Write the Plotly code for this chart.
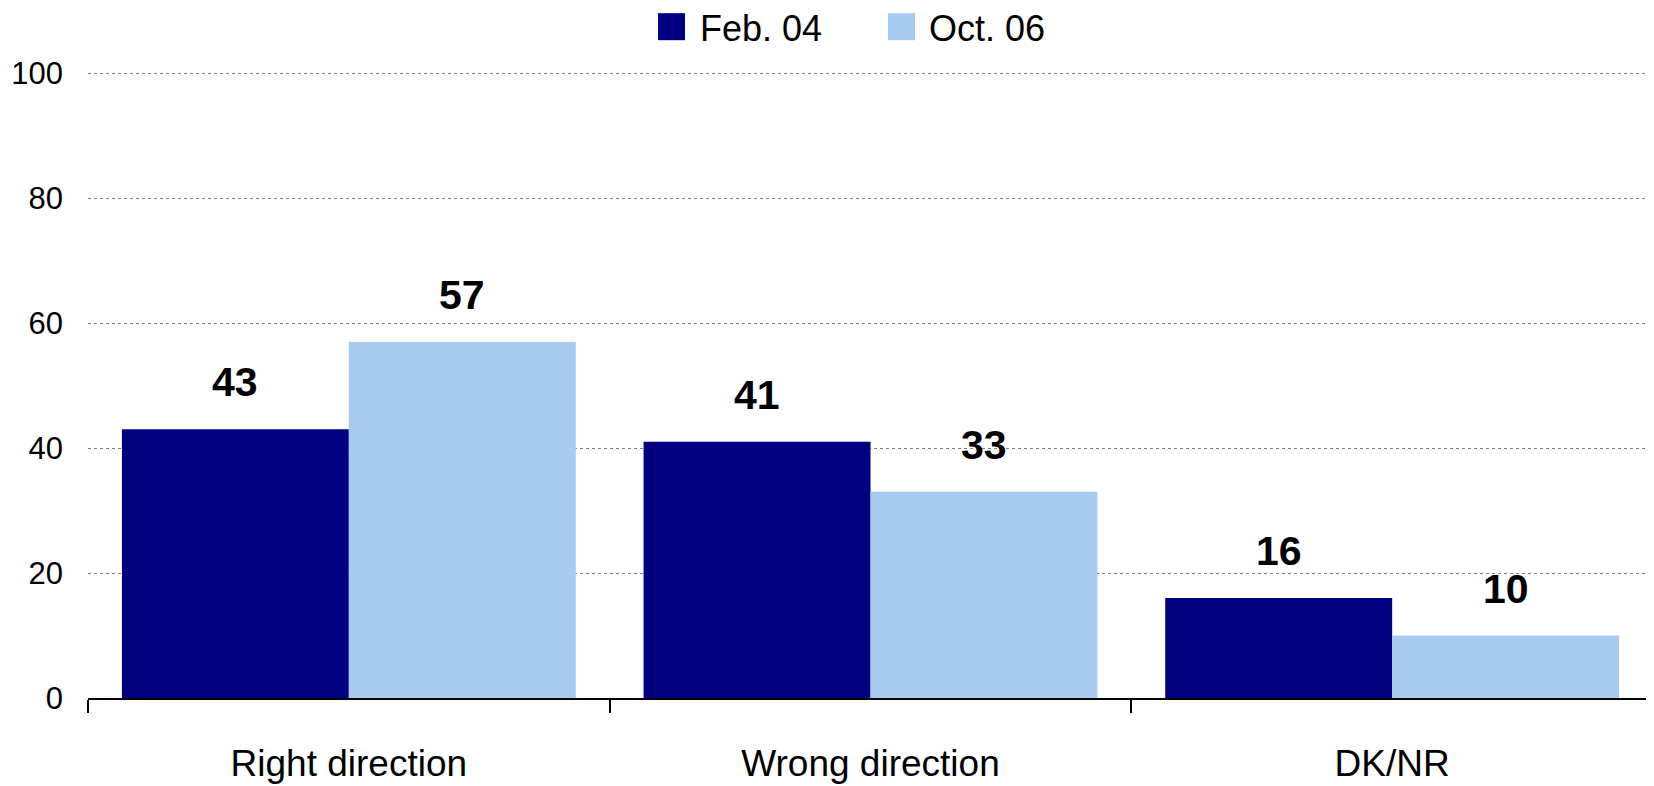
"""Right / wrong direction survey: grouped bars, Feb. 04 vs Oct. 06."""

import plotly.graph_objects as go

CATEGORIES = ["Right direction", "Wrong direction", "DK/NR"]
SERIES = ["Feb. 04", "Oct. 06"]
FEB_04 = [43, 41, 16]
OCT_06 = [57, 33, 10]
Y_TICKS = [0, 20, 40, 60, 80, 100]

COLORS = ["#000080", "#A6CAF0"]
FONT = "Liberation Sans, Arial, sans-serif"
BARGAP = 0.13

fig = go.Figure()
for name, vals, col in zip(SERIES, [FEB_04, OCT_06], COLORS):
    fig.add_trace(go.Bar(x=CATEGORIES, y=vals, name=name, marker=dict(color=col, line=dict(width=0)),
                         showlegend=False, hoverinfo="x+y+name"))

# value labels above each bar (bar centre offset follows from the bargap)
half = (1 - BARGAP) / 4
for k, vals in enumerate([FEB_04, OCT_06]):
    off = -half if k == 0 else half
    for i, v in enumerate(vals):
        fig.add_annotation(x=i + off, y=v, xref="x", yref="y", text=f"<b>{v}</b>",
                           showarrow=False, yanchor="bottom", yshift=22,
                           font=dict(family=FONT, size=41, color="#000000"))

# legend drawn by hand so the swatches can be large squares
leg = [(0.3642, 0.3898), (0.5112, 0.5361)]
for (sx, tx), name, col in zip(leg, SERIES, COLORS):
    fig.add_shape(type="rect", xref="paper", yref="paper", x0=sx, x1=sx + 0.01725,
                  y0=1.0508, y1=1.094, fillcolor=col, line=dict(width=0))
    fig.add_annotation(x=tx, y=1.07, xref="paper", yref="paper", text=name, showarrow=False,
                       xanchor="left", yanchor="middle",
                       font=dict(family=FONT, size=36, color="#000000"))

# page body keeps its default 8px margin, so the figure is 8px smaller each way
fig.update_layout(
    width=1646, height=778,
    paper_bgcolor="white", plot_bgcolor="white",
    barmode="group", bargap=BARGAP, bargroupgap=0,
    margin=dict(l=80, r=1, t=64, b=88),
    font=dict(family=FONT, color="#000000"),
    xaxis=dict(showline=True, linecolor="#000000", linewidth=2, ticks="outside",
               tickson="boundaries", ticklen=13, tickwidth=1.5, tickcolor="#000000",
               tickfont=dict(size=37), ticklabelstandoff=32, showgrid=False,
               automargin=False),
    yaxis=dict(range=[0, 100.2], tickvals=Y_TICKS, showline=False, zeroline=False,
               showgrid=True, gridcolor="#808080", griddash="dot", gridwidth=1,
               tickfont=dict(size=31), ticklabelstandoff=24, automargin=False),
)

fig.write_html("out.html")
